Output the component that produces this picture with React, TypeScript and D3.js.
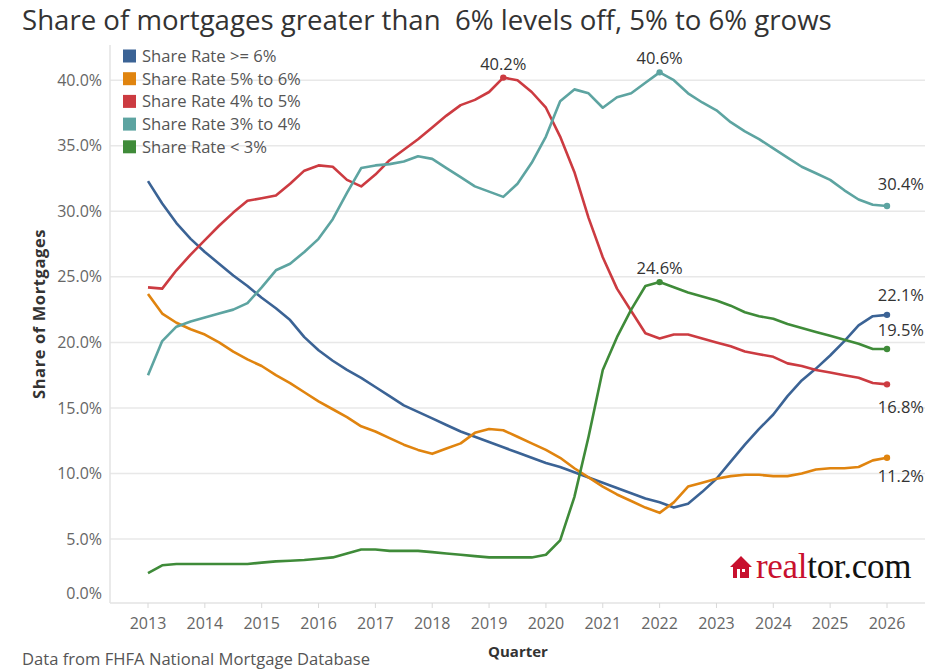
import React, { useEffect, useRef } from 'react';
import * as d3 from 'd3';

// quarterly observations, 2013 Q1 .. 2026 Q1
const firstYear = 2013;
const quarterCount = 53;
const quarters = d3.range(quarterCount).map(i => firstYear + i / 4);
const yearTicks = [2013, 2014, 2015, 2016, 2017, 2018, 2019, 2020, 2021, 2022, 2023, 2024, 2025, 2026];
const pctTicks = [0, 5, 10, 15, 20, 25, 30, 35, 40];

const above6 = [
  32.3, 30.6, 29.1, 27.9, 26.9, 26.0, 25.1, 24.3, 23.4, 22.6, 21.7, 20.4, 19.4, 18.6,
  17.9, 17.3, 16.6, 15.9, 15.2, 14.7, 14.2, 13.7, 13.2, 12.8, 12.4, 12.0, 11.6, 11.2,
  10.8, 10.5, 10.1, 9.7, 9.3, 8.9, 8.5, 8.1, 7.8, 7.4, 7.7, 8.6, 9.6, 10.9, 12.2,
  13.4, 14.5, 15.9, 17.1, 18.0, 19.0, 20.1, 21.3, 22.0, 22.1,
];
const from5to6 = [
  23.7, 22.2, 21.5, 21.0, 20.6, 20.0, 19.3, 18.7, 18.2, 17.5, 16.9, 16.2, 15.5, 14.9,
  14.3, 13.6, 13.2, 12.7, 12.2, 11.8, 11.5, 11.9, 12.3, 13.1, 13.4, 13.3, 12.8, 12.3,
  11.8, 11.2, 10.4, 9.7, 9.0, 8.4, 7.9, 7.4, 7.0, 7.8, 9.0, 9.3, 9.6, 9.8, 9.9,
  9.9, 9.8, 9.8, 10.0, 10.3, 10.4, 10.4, 10.5, 11.0, 11.2,
];
const from4to5 = [
  24.2, 24.1, 25.5, 26.7, 27.8, 28.9, 29.9, 30.8, 31.0, 31.2, 32.1, 33.1, 33.5, 33.4,
  32.4, 31.9, 32.8, 33.9, 34.7, 35.5, 36.4, 37.3, 38.1, 38.5, 39.1, 40.2, 40.0, 39.1,
  37.9, 35.7, 33.0, 29.5, 26.5, 24.1, 22.4, 20.7, 20.3, 20.6, 20.6, 20.3, 20.0, 19.7,
  19.3, 19.1, 18.9, 18.4, 18.2, 17.9, 17.7, 17.5, 17.3, 16.9, 16.8,
];
const from3to4 = [
  17.5, 20.1, 21.2, 21.6, 21.9, 22.2, 22.5, 23.0, 24.2, 25.5, 26.0, 26.9, 27.9, 29.4,
  31.4, 33.3, 33.5, 33.6, 33.8, 34.2, 34.0, 33.3, 32.6, 31.9, 31.5, 31.1, 32.1, 33.7,
  35.7, 38.4, 39.3, 39.0, 37.9, 38.7, 39.0, 39.8, 40.6, 40.0, 39.0, 38.3, 37.7, 36.8,
  36.1, 35.5, 34.8, 34.1, 33.4, 32.9, 32.4, 31.6, 30.9, 30.5, 30.4,
];
const below3 = [
  2.4, 3.0, 3.1, 3.1, 3.1, 3.1, 3.1, 3.1, 3.2, 3.3, 3.35, 3.4, 3.5, 3.6,
  3.9, 4.2, 4.2, 4.1, 4.1, 4.1, 4.0, 3.9, 3.8, 3.7, 3.6, 3.6, 3.6, 3.6,
  3.8, 4.9, 8.2, 12.8, 17.9, 20.4, 22.5, 24.3, 24.6, 24.2, 23.8, 23.5, 23.2, 22.8,
  22.3, 22.0, 21.8, 21.4, 21.1, 20.8, 20.5, 20.2, 19.9, 19.5, 19.5,
];

const seriesNames = ['Share Rate >= 6%', 'Share Rate 5% to 6%', 'Share Rate 4% to 5%', 'Share Rate 3% to 4%', 'Share Rate < 3%'];
const seriesValues = [above6, from5to6, from4to5, from3to4, below3];
const colors = ['#3b6395', '#e0840f', '#cc3b41', '#5da4a1', '#3f8b39'];

// which points get a dot + label: [series, index, placement, baseline offset]
const callouts: [number, number, string, number][] = [
  [2, 25, 'top', -8],
  [3, 36, 'top', -8],
  [4, 36, 'top', -8],
  [3, 52, 'side', -16],
  [0, 52, 'side', -14],
  [4, 52, 'side', -13],
  [2, 52, 'side', 29],
  [1, 52, 'side', 24],
];

const W = 937;
const H = 669;
const font = '"Open Sans", "Noto Sans", sans-serif';

const App: React.FC = () => {
  const svgRef = useRef<SVGSVGElement>(null);

  useEffect(() => {
    if (!svgRef.current) return;
    const svg = d3.select(svgRef.current);
    svg.selectAll('*').remove();

    const left = 110, right = 925, top = 45, bottom = 603;
    const x = d3.scaleLinear().domain([2013, 2026]).range([148, 887]);
    const y = d3.scaleLinear().domain([0, 40]).range([604.6, 80.2]);

    // title
    svg.append('text')
      .attr('x', 22).attr('y', 30)
      .attr('xml:space', 'preserve')
      .style('font-family', font).style('font-size', '27.6px').style('fill', '#333')
      .text('Share of mortgages greater than  6% levels off, 5% to 6% grows');

    // gridlines
    svg.append('g').selectAll('line')
      .data(pctTicks.filter(d => d > 0))
      .enter().append('line')
      .attr('x1', left).attr('x2', right)
      .attr('y1', d => y(d)).attr('y2', d => y(d))
      .style('stroke', '#e8e8e8').style('stroke-width', 1.5);

    // axes lines
    svg.append('line').attr('x1', left).attr('x2', left).attr('y1', top).attr('y2', bottom)
      .style('stroke', '#e3e3e3').style('stroke-width', 1.5);
    svg.append('line').attr('x1', left).attr('x2', right).attr('y1', bottom).attr('y2', bottom)
      .style('stroke', '#e3e3e3').style('stroke-width', 1.5);

    // y tick labels
    svg.append('g').selectAll('text')
      .data(pctTicks)
      .enter().append('text')
      .attr('x', 102)
      .attr('y', d => (d === 0 ? 593 : y(d)))
      .attr('dy', '0.35em')
      .attr('text-anchor', 'end')
      .style('font-family', font).style('font-size', '16px').style('fill', '#666')
      .text(d => d3.format('.1f')(d) + '%');

    // x ticks + labels
    svg.append('g').selectAll('line')
      .data(yearTicks)
      .enter().append('line')
      .attr('x1', d => x(d)).attr('x2', d => x(d))
      .attr('y1', bottom).attr('y2', bottom + 5)
      .style('stroke', '#d8d8d8');
    svg.append('g').selectAll('text')
      .data(yearTicks)
      .enter().append('text')
      .attr('x', d => x(d)).attr('y', 629)
      .attr('text-anchor', 'middle')
      .style('font-family', font).style('font-size', '16px').style('fill', '#666')
      .text(d => String(d));

    // axis titles
    svg.append('text')
      .attr('transform', `translate(45,${(top + bottom) / 2 - 10}) rotate(-90)`)
      .attr('text-anchor', 'middle')
      .style('font-family', font).style('font-size', '16.5px').style('font-weight', 'bold')
      .style('letter-spacing', '0.6px').style('fill', '#333')
      .text('Share of Mortgages');
    svg.append('text')
      .attr('x', 518).attr('y', 657)
      .attr('text-anchor', 'middle')
      .style('font-family', font).style('font-size', '15px').style('font-weight', 'bold').style('fill', '#333')
      .text('Quarter');

    // footer
    svg.append('text')
      .attr('x', 22).attr('y', 665)
      .style('font-family', font).style('font-size', '16.6px').style('fill', '#555')
      .text('Data from FHFA National Mortgage Database');

    // lines
    const line = d3.line<number>()
      .x((_, i) => x(quarters[i]))
      .y(d => y(d));
    seriesValues.forEach((vals, s) => {
      svg.append('path')
        .datum(vals)
        .attr('d', line)
        .style('fill', 'none')
        .style('stroke', colors[s])
        .style('stroke-width', 2.6)
        .style('stroke-linejoin', 'round');
    });

    // callout dots and labels
    callouts.forEach(([s, i, place, dy]) => {
      const v = seriesValues[s][i];
      const cx = x(quarters[i]);
      const cy = y(v);
      svg.append('circle').attr('cx', cx).attr('cy', cy).attr('r', 3.2).style('fill', colors[s]);
      const t = svg.append('text')
        .attr('y', cy + dy)
        .style('font-family', font).style('font-size', '16.5px').style('fill', '#333')
        .text(d3.format('.1f')(v) + '%');
      if (place === 'top') {
        t.attr('x', cx).attr('text-anchor', 'middle');
      } else {
        t.attr('x', 924).attr('text-anchor', 'end');
      }
    });

    // legend
    const legend = svg.append('g');
    seriesNames.forEach((name, k) => {
      const cy = 56 + k * 22.7;
      legend.append('rect').attr('x', 123).attr('y', cy - 6.5).attr('width', 13).attr('height', 13)
        .style('fill', colors[k]);
      legend.append('text').attr('x', 142).attr('y', cy).attr('dy', '0.35em')
        .style('font-family', font).style('font-size', '16.6px').style('fill', '#555')
        .text(name);
    });

    // realtor.com logo
    const logo = svg.append('g');
    logo.append('path')
      .attr('d', 'M730,567 L741,556 L752,567 L749,567 L749,578 L733,578 L733,567 Z')
      .style('fill', '#c8102e');
    logo.append('rect').attr('x', 737).attr('y', 569).attr('width', 3).attr('height', 9).style('fill', '#fff');
    logo.append('rect').attr('x', 742).attr('y', 569).attr('width', 3).attr('height', 3).style('fill', '#fff');
    const lt = logo.append('text')
      .attr('x', 756).attr('y', 578)
      .style('font-family', '"Liberation Serif", "DejaVu Serif", serif')
      .style('font-size', '35px')
      .style('letter-spacing', '-0.3px');
    lt.append('tspan').style('fill', '#c8102e').text('real');
    lt.append('tspan').style('fill', '#111').text('tor.com');
  }, []);

  return (
    <svg
      ref={svgRef}
      width={W}
      height={H}
      style={{ position: 'absolute', left: 0, top: 0, background: '#fff' }}
    />
  );
};

export default App;
